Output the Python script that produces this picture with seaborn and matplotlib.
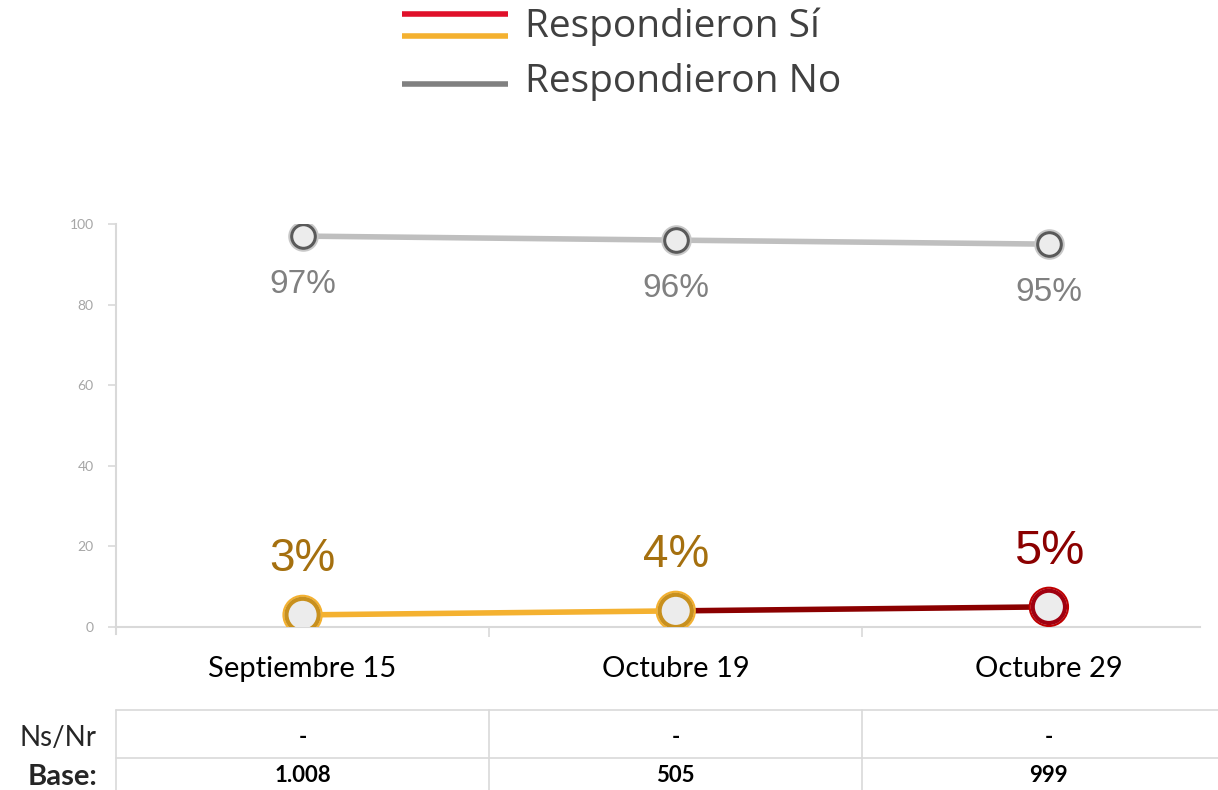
import matplotlib
matplotlib.use("Agg")
import matplotlib.pyplot as plt
import matplotlib.transforms as mtransforms
from matplotlib.lines import Line2D
import pandas as pd
import seaborn as sns

# Data
fechas = ["Septiembre 15", "Octubre 19", "Octubre 29"]
resp_si = [3, 4, 5]
resp_no = [97, 96, 95]
ns_nr = ["-", "-", "-"]
base = ["1.008", "505", "999"]

df = pd.DataFrame({"fecha": fechas, "pos": range(len(fechas)), "si": resp_si, "no": resp_no})

sns.set_theme(style="white")
plt.rcParams["font.family"] = ["Lato", "DejaVu Sans"]

fig = plt.figure(figsize=(12.18, 7.9), dpi=100)
ax = fig.add_axes([116 / 1218, 163 / 790, (1200 - 116) / 1218, (627 - 224) / 790])

GRIS = "#bfbfbf"
NARANJA = "#f4b130"
ROJO = "#8b0000"

# lines
sns.lineplot(data=df, x="pos", y="no", ax=ax, color=GRIS, linewidth=4, zorder=2)
sns.lineplot(data=df.iloc[:2], x="pos", y="si", ax=ax, color=NARANJA, linewidth=4, zorder=2)
sns.lineplot(data=df.iloc[1:], x="pos", y="si", ax=ax, color=ROJO, linewidth=4, zorder=2)

# markers (double rings)
ax.scatter(df["pos"], df["no"], s=420, facecolor="#f2f2f2", edgecolor="#c8c8c8", linewidth=1.5, zorder=3)
ax.scatter(df["pos"], df["no"], s=290, facecolor="#ececec", edgecolor="#5a5a5a", linewidth=2.2, zorder=4)

si_outer = [NARANJA, NARANJA, "#c00000"]
si_inner = ["#c8901e", "#c8901e", "#a00010"]
ax.scatter(df["pos"], df["si"], s=760, facecolor="white", edgecolor=si_outer, linewidth=1.5, zorder=3)
ax.scatter(df["pos"], df["si"], s=540, facecolor="#ececec", edgecolor=si_inner, linewidth=3, zorder=4)

# value labels
for i, v in enumerate(resp_no):
    ax.annotate(f"{v}%", (i, v), xytext=(0, -35), textcoords="offset points",
                ha="center", va="center", fontsize=24, color="#808080",
                family=["Liberation Sans", "DejaVu Sans"])
si_colors = ["#a5700f", "#a5700f", ROJO]
for i, v in enumerate(resp_si):
    ax.annotate(f"{v}%", (i, v), xytext=(0, 40), textcoords="offset points",
                ha="center", va="center", fontsize=33 if i < 2 else 35, color=si_colors[i],
                fontweight="normal" if i < 2 else "medium",
                family=["Liberation Sans", "DejaVu Sans"])

# axes styling
ax.set_xlim(-0.5, 2.405)
ax.set_ylim(0, 100)
ax.set_yticks([0, 20, 40, 60, 80, 100])
ax.set_xticks(range(len(fechas)))
ax.set_xticklabels(fechas, fontsize=21, color="black")
ax.set_xticks([0.5, 1.5], minor=True)
ax.tick_params(axis="x", which="major", length=0, pad=21)
ax.tick_params(axis="x", which="minor", length=7, width=1.2, color="#d9d9d9", direction="out", bottom=True)
ax.tick_params(axis="y", length=6, width=1.2, color="#d9d9d9", direction="out", left=True,
               labelsize=10, labelcolor="#a6a6a6", pad=10)
ax.set_xlabel("")
ax.set_ylabel("")
for s in ["top", "right"]:
    ax.spines[s].set_visible(False)
for s in ["left", "bottom"]:
    ax.spines[s].set_color("#d9d9d9")
    ax.spines[s].set_linewidth(1.5)
ax.spines["left"].set_bounds(-1.8, 100)
ax.spines["left"].set_position(("data", -0.5))
ax.spines["bottom"].set_bounds(-0.5, 2.405)

# table below the chart
trans = mtransforms.blended_transform_factory(ax.transData, fig.transFigure)
line_kw = dict(color="#d9d9d9", linewidth=1.2, transform=trans, clip_on=False)
fig.add_artist(Line2D([-0.5, 2.46], [1 - 710 / 790] * 2, **line_kw))
fig.add_artist(Line2D([-0.5, 2.46], [1 - 758 / 790] * 2, **line_kw))
for xb in [-0.5, 0.5, 1.5]:
    fig.add_artist(Line2D([xb, xb], [0, 1 - 710 / 790], **line_kw))

fig.text(97 / 1218, 1 - 738 / 790, "Ns/Nr", ha="right", va="center", fontsize=20, color="#262626")
fig.text(97 / 1218, 1 - 777 / 790, "Base:", ha="right", va="center", fontsize=21,
         fontweight="bold", color="#262626")
for i in range(len(fechas)):
    fig.text(i, 1 - 738 / 790, ns_nr[i], ha="center", va="center", fontsize=16,
             fontweight="bold", color="black", transform=trans)
    fig.text(i, 1 - 776 / 790, base[i], ha="center", va="center", fontsize=16,
             fontweight="bold", color="black", transform=trans)

# legend at the top
leg_kw = dict(linewidth=4, solid_capstyle="butt")
fig.add_artist(Line2D([402 / 1218, 508 / 1218], [1 - 14 / 790] * 2, color="#e0102a", **leg_kw))
fig.add_artist(Line2D([402 / 1218, 508 / 1218], [1 - 36 / 790] * 2, color=NARANJA, **leg_kw))
fig.add_artist(Line2D([402 / 1218, 508 / 1218], [1 - 84 / 790] * 2, color="#808080", **leg_kw))
leg_font = ["Open Sans", "DejaVu Sans"]
fig.text(525 / 1218, 1 - 27 / 790, "Respondieron Sí", ha="left", va="center", fontsize=28,
         color="#404040", family=leg_font)
fig.text(525 / 1218, 1 - 82 / 790, "Respondieron No", ha="left", va="center", fontsize=28,
         color="#404040", family=leg_font)

fig.savefig("out.png", dpi=100)
